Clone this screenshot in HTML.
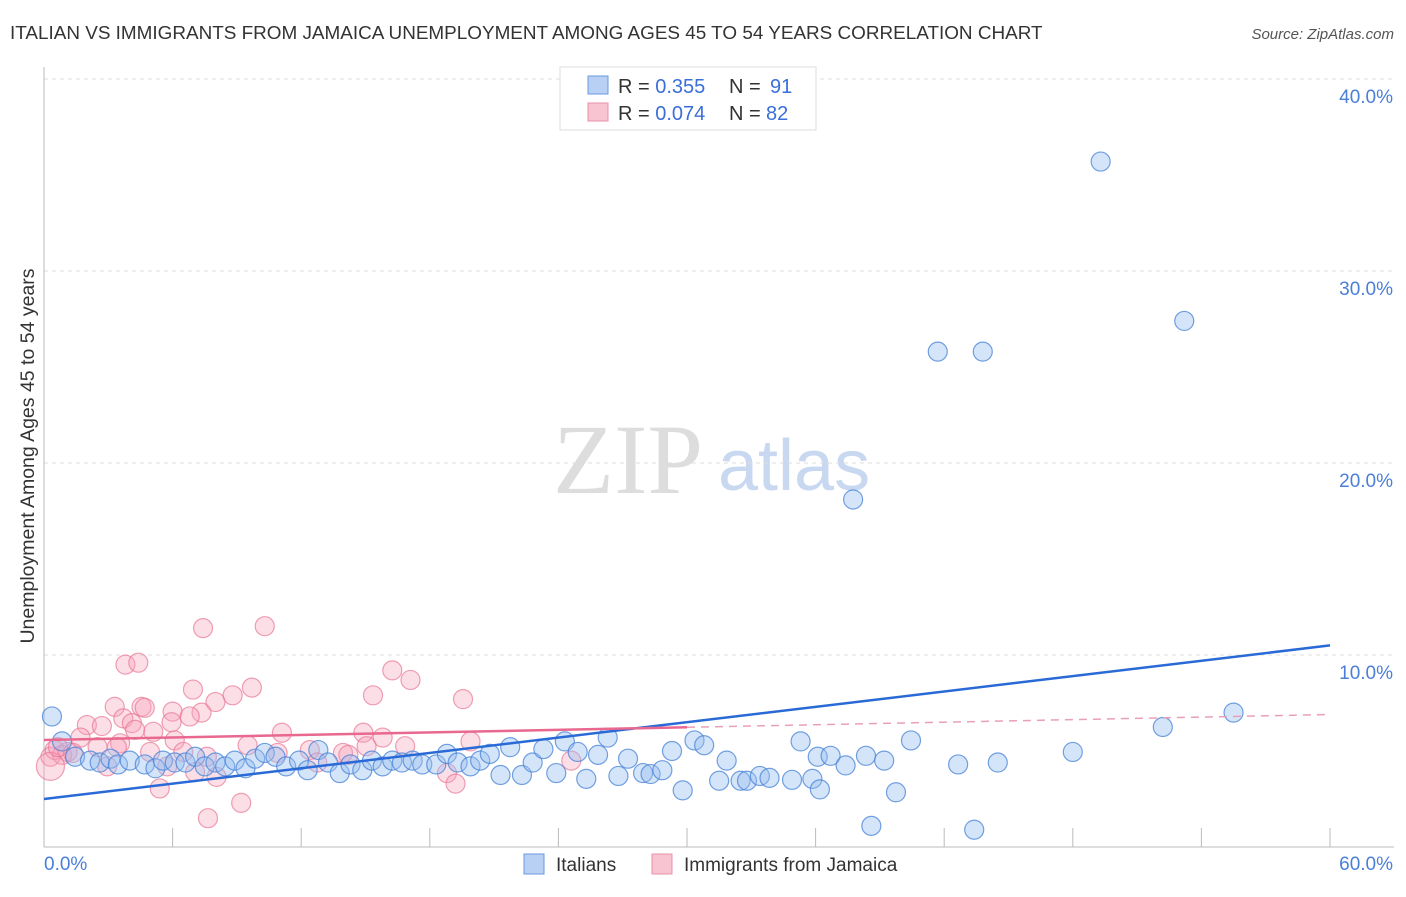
<!DOCTYPE html>
<html><head><meta charset="utf-8"><style>
body{margin:0;background:#fff;font-family:"Liberation Sans",sans-serif}
svg text{font-family:"Liberation Sans",sans-serif}
</style></head><body>
<svg width="1406" height="892" xmlns="http://www.w3.org/2000/svg">
<text x="10" y="39" font-size="18.9" fill="#333">ITALIAN VS IMMIGRANTS FROM JAMAICA UNEMPLOYMENT AMONG AGES 45 TO 54 YEARS CORRELATION CHART</text>
<text x="1394" y="39" font-size="15" fill="#555" font-style="italic" text-anchor="end">Source: ZipAtlas.com</text>
<g>
<text x="553" y="493" font-size="100" fill="#ddd" style="font-family:'Liberation Serif',serif">ZIP</text>
<text x="718" y="490" font-size="72" fill="#c8d8f0">atlas</text>
</g>
<g id="grid"></g>
<g id="axes"></g>
<g id="pts"></g>
<g id="trend"></g>
<text transform="translate(34,456) rotate(-90)" font-size="19.5" fill="#333" text-anchor="middle">Unemployment Among Ages 45 to 54 years</text>
<g>
<rect x="560" y="67" width="256" height="63" fill="#fff" stroke="#ddd"/>
<rect x="588" y="76" width="20" height="18" fill="#b8d0f4" stroke="#6a98e0"/>
<rect x="588" y="103" width="20" height="18" fill="#f9c4d2" stroke="#e890aa"/>
<text x="618" y="93" font-size="20" fill="#333">R = <tspan fill="#3a6fd8">0.355</tspan></text>
<text x="729" y="93" font-size="20" fill="#333">N = <tspan fill="#3a6fd8" x="770">91</tspan></text>
<text x="618" y="120" font-size="20" fill="#333">R = <tspan fill="#3a6fd8">0.074</tspan></text>
<text x="729" y="120" font-size="20" fill="#333">N = <tspan fill="#3a6fd8" x="766">82</tspan></text>
</g>
<g>
<rect x="524" y="854" width="20" height="20" fill="#b8d0f4" stroke="#6a98e0"/>
<text x="556" y="871" font-size="19" fill="#333">Italians</text>
<rect x="652" y="854" width="20" height="20" fill="#f9c4d2" stroke="#e890aa"/>
<text x="684" y="871" font-size="19" fill="#333">Immigrants from Jamaica</text>
</g>
</svg>
<script>
const yTicks=[10,20,30,40];
const yTickLabels=["10.0%","20.0%","30.0%","40.0%"];
const xTickLabels=["0.0%","60.0%"];
const italiansX=[0.37,0.84,1.45,2.15,2.6,3.1,3.45,4.0,4.7,5.2,5.55,6.1,6.6,7.05,7.5,8.0,8.45,8.9,9.4,9.85,10.3,10.8,11.3,11.9,12.3,12.8,13.25,13.8,14.3,14.85,15.3,15.8,16.25,16.7,17.2,17.65,18.3,18.8,19.3,19.9,20.35,20.8,21.3,21.75,22.3,22.8,23.3,23.9,24.3,24.9,25.3,25.85,26.3,26.8,27.25,27.95,28.3,28.85,29.3,29.8,30.35,30.8,31.5,31.85,32.5,32.8,33.4,33.85,34.9,35.3,35.85,36.1,36.2,36.7,37.4,38.35,39.2,39.75,40.45,38.6,41.7,43.8,37.75,42.65,43.4,44.5,48.0,49.3,52.2,53.2,55.5];
const italiansY=[6.8,5.5,4.7,4.5,4.4,4.6,4.3,4.5,4.3,4.1,4.5,4.4,4.4,4.7,4.2,4.4,4.2,4.5,4.1,4.6,4.9,4.7,4.2,4.5,4.0,5.05,4.4,3.85,4.3,4.0,4.5,4.2,4.5,4.4,4.5,4.3,4.3,4.85,4.4,4.2,4.5,4.85,3.75,5.2,3.75,4.4,5.1,3.85,5.5,4.95,3.55,4.8,5.7,3.7,4.6,3.85,3.8,4.0,5.0,2.95,5.55,5.3,3.45,4.5,3.45,3.45,3.7,3.6,3.5,5.5,3.55,4.7,3.0,4.75,4.25,4.75,4.5,2.85,5.55,1.1,25.8,25.8,18.1,4.3,0.9,4.4,4.95,35.7,6.25,27.4,7.0];
const jamaicaX=[7.42,10.3,3.8,4.4,16.25,17.1,6.95,9.7,15.35,8.8,8.0,19.55,3.3,4.55,4.7,6.0,7.35,6.8,5.95,3.7,2.0,2.7,4.1,5.1,4.25,11.1,14.9,15.8,15.05,16.85,19.9,9.5,1.7,3.55,6.1,12.4,13.95,14.2,0.3,0.5,0.85,1.1,1.35,4.95,6.5,7.6,10.9,2.95,5.75,7.05,8.05,12.75,18.8,19.2,5.4,9.2,7.65,0.3,24.6,0.65,2.5,3.4];
const jamaicaY=[11.4,11.5,9.5,9.6,9.2,8.7,8.2,8.3,7.9,7.9,7.55,7.7,7.3,7.3,7.25,7.05,7.0,6.8,6.5,6.7,6.35,6.3,6.45,6.0,6.1,5.95,5.95,5.7,5.25,5.25,5.5,5.3,5.7,5.4,5.55,5.05,4.9,4.8,4.7,5.05,4.8,4.95,4.9,4.95,4.95,4.7,4.9,4.2,4.2,3.9,3.65,4.4,3.85,3.3,3.05,2.3,1.5,4.2,4.5,5.2,5.2,5.2];
const italiansTrend=[2.5,10.5];
const jamaicaTrend=[5.57,6.9];
const jamaicaSolidEnd=30;
const NS="http://www.w3.org/2000/svg";
const X=v=>44+v*(1286/60);
const Y=v=>847-v*19.2;
function mk(t,a,p){const e=document.createElementNS(NS,t);for(const k in a)e.setAttribute(k,a[k]);document.getElementById(p).appendChild(e);return e;}
yTicks.forEach((t,i)=>{
 const l=mk('line',{x1:44,x2:1394,y1:Y(t),y2:Y(t),stroke:'#ddd','stroke-dasharray':'4,4'},'grid');
 
 
 const tx=mk('text',{x:1393,y:Y(t)+24,'font-size':19,fill:'#4a7fd8','text-anchor':'end'},'grid');
 tx.textContent=yTickLabels[i];
 
 
});
let a=mk('line',{x1:44,x2:44,y1:67,y2:847,stroke:'#bbb'},'axes');


a=mk('line',{x1:44,x2:1394,y1:847,y2:847,stroke:'#bbb'},'axes');


for(let i=0;i<=10;i++){
 const t=mk('line',{x1:X(i*6),x2:X(i*6),y1:828,y2:847,stroke:'#bbb'},'axes');
 
 
}
[[0,'start',44],[60,'end',1393]].forEach((d,i)=>{
 const t=mk('text',{x:d[2],y:870,'font-size':19,fill:'#4a7fd8','text-anchor':d[1]},'axes');
 t.textContent=xTickLabels[i];
 
 
});
jamaicaX.forEach((x,i)=>{
 const c=mk('circle',{cx:X(x),cy:Y(jamaicaY[i]),r:i==57?14:9.5,fill:'rgba(246,160,185,0.35)',stroke:'rgba(232,120,150,0.7)','stroke-width':1.2},'pts');
 
 
});
italiansX.forEach((x,i)=>{
 const c=mk('circle',{cx:X(x),cy:Y(italiansY[i]),r:9.5,fill:'rgba(150,190,240,0.4)',stroke:'rgba(70,130,215,0.75)','stroke-width':1.2},'pts');
 
 
});
let l=mk('line',{x1:X(0),x2:X(60),y1:Y(italiansTrend[0]),y2:Y(italiansTrend[1]),stroke:'#2a6ad6','stroke-width':2.5},'trend');


const jm=jamaicaTrend[0]+(jamaicaTrend[1]-jamaicaTrend[0])*jamaicaSolidEnd/60;
l=mk('line',{x1:X(0),x2:X(jamaicaSolidEnd),y1:Y(jamaicaTrend[0]),y2:Y(jm),stroke:'#e86890','stroke-width':2.5},'trend');


l=mk('line',{x1:X(jamaicaSolidEnd),x2:X(60),y1:Y(jm),y2:Y(jamaicaTrend[1]),stroke:'#e8a0b8','stroke-width':1.5,'stroke-dasharray':'8,6'},'trend');


</script>
</body></html>
